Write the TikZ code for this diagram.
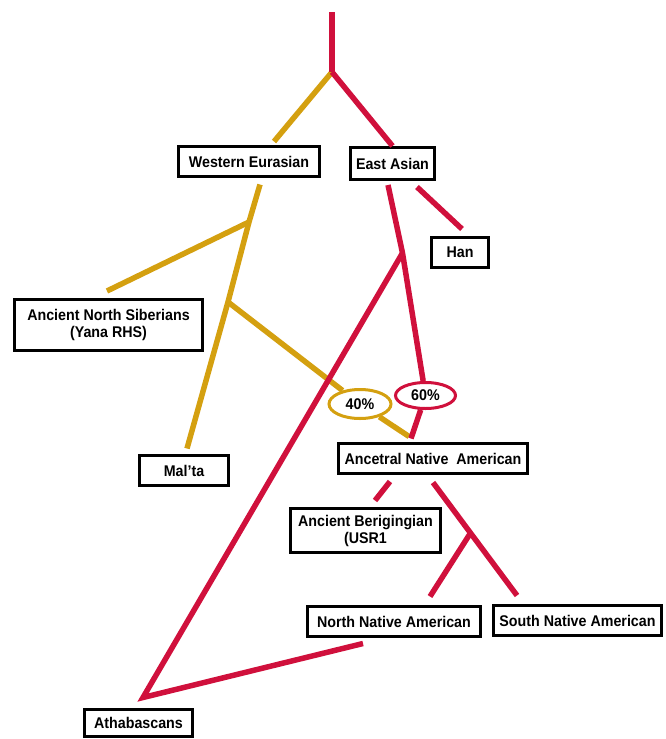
\documentclass[tikz,border=0pt]{standalone}
\usepackage{fontspec}
\setmainfont[FakeStretch=0.92]{Liberation Sans}
\usetikzlibrary{shapes.geometric}
\definecolor{lineRed}{RGB}{208,16,60}
\definecolor{lineGold}{RGB}{212,160,16}
\tikzset{
    popbox/.style={draw=black, line width=3pt, fill=white, inner sep=0pt, align=center,
        font=\bfseries\fontsize{15.5}{17}\selectfont},
    sharebox/.style={ellipse, line width=3pt, fill=white, inner sep=0pt,
        minimum width=60pt, font=\bfseries\fontsize{15.5}{16}\selectfont},
    redline/.style={draw=lineRed, line width=5.5pt},
    goldline/.style={draw=lineGold, line width=5.5pt}
}
\begin{document}
\begin{tikzpicture}[x=1pt, y=-1pt]
                    \useasboundingbox (0, 0) rectangle (665, 739);
                    %%draw the populations
                    \node[popbox, minimum width=141pt, minimum height=30pt] (west) at (249, 161.5){Western Eurasian};
                    \node[popbox, minimum width=84pt, minimum height=32pt] (east) at (392.5, 163.5){East Asian};
                    \node[popbox, minimum width=57pt, minimum height=30pt] (han) at (460, 252.5){Han};
                    \node[popbox, minimum width=188pt, minimum height=51pt] (siber) at (108.5, 325){Ancient North Siberians\\(Yana RHS)};
                    \node[popbox, minimum width=89pt, minimum height=30pt] (malta) at (184, 470.5){Mal’ta};
                    \node[popbox, minimum width=189pt, minimum height=30pt] (ancnat) at (433, 458.5){Ancetral Native\ \ American};
                    \node[popbox, minimum width=150pt, minimum height=44pt] (bering) at (365.5, 530.5){Ancient Berigingian\\(USR1};
                    \node[popbox, minimum width=173pt, minimum height=30pt] (north) at (394, 621.5){North Native American};
                    \node[popbox, minimum width=168pt, minimum height=30pt] (south) at (577.5, 620.5){South Native American};
                    \node[popbox, minimum width=108pt, minimum height=27pt] (atha) at (138.5, 723){Athabascans};
                    %%draw the shares
                    \node[sharebox, draw=lineGold, minimum width=62pt, minimum height=29pt] (p40) at (360, 404){40\%};
                    \node[sharebox, draw=lineRed, minimum height=26pt] (p60) at (425.5, 395.5){60\%};

                    %%draw the junctions
                    \coordinate (root) at (332, 12);
                    \coordinate (fork) at (332, 72);
                    \coordinate (westjoin) at (249, 222);
                    \coordinate (maltajoin) at (228, 302);
                    \coordinate (athajoin) at (402.5, 253);
                    \coordinate (amerjoin) at (470.5, 533);

                    %%draw the western branches
                    \draw[goldline](fork) to ([xshift=25pt, yshift=3.5pt]west.north);
                    \draw[goldline]([xshift=11pt, yshift=-6.5pt]west.south) to (westjoin) to (maltajoin)
                        to ([xshift=3pt, yshift=5.5pt]malta.north);
                        \draw[goldline](westjoin) to ([xshift=-1.5pt, yshift=7pt]siber.north);
                        \draw[goldline](maltajoin) to (p40);
                        \draw[goldline](p40) to ([xshift=-24pt, yshift=5.5pt]ancnat.north);

                    %%draw the eastern branches
                    \draw[redline](root) to (fork);
                    \draw[redline](fork) to (east.north);
                    \draw[redline]([xshift=-4.5pt, yshift=-4pt]east.south) to (athajoin) to (p60);
                        \draw[redline](p60) to ([xshift=-22pt, yshift=3.5pt]ancnat.north);
                        \draw[redline]([xshift=24.5pt, yshift=-6pt]east.south) to ([xshift=2pt, yshift=7pt]han.north);
                        \draw[redline](athajoin) to ([xshift=4.5pt, yshift=10.5pt]atha.north)
                            to ([xshift=-31pt, yshift=-5.5pt]north.south);

                    %%draw the american branches
                    \draw[redline]([xshift=-43pt, yshift=-6.5pt]ancnat.south) to ([xshift=9.5pt, yshift=6.5pt]bering.north);
                    \draw[redline]([yshift=-7.5pt]ancnat.south) to (amerjoin) to ([xshift=-60.5pt, yshift=8.5pt]south.north);
                        \draw[redline](amerjoin) to ([xshift=36pt, yshift=8.5pt]north.north);
\end{tikzpicture}
\end{document}
